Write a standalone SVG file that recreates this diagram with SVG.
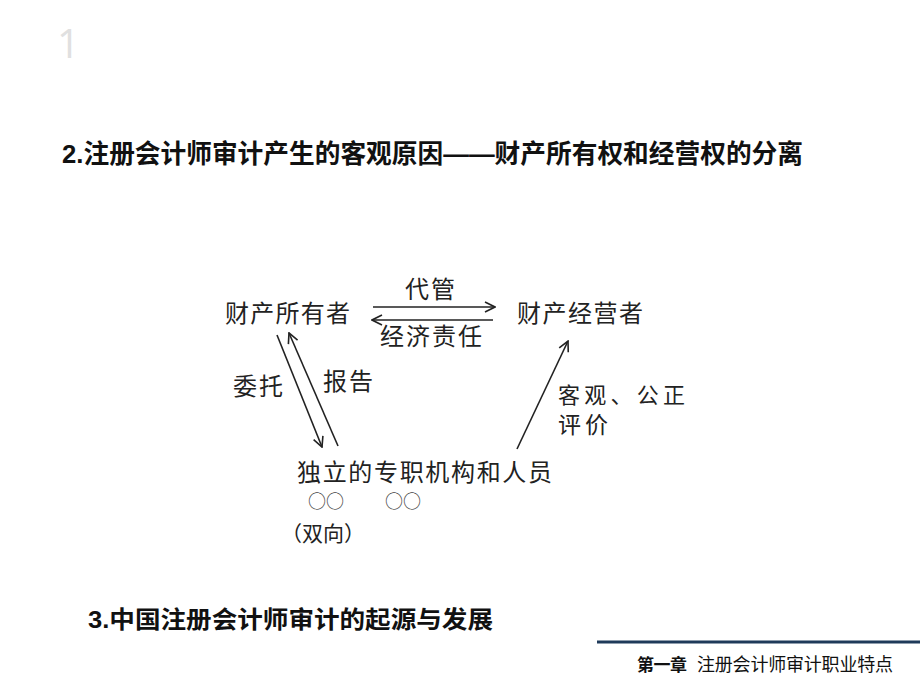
<svg xmlns="http://www.w3.org/2000/svg" width="920" height="690" viewBox="0 0 920 690">
<defs>
<style>
.t{font-family:"Liberation Sans","Noto Sans CJK SC",sans-serif;fill:#111;font-weight:bold}
.d{font-family:"Noto Sans CJK SC",sans-serif;fill:#222;font-size:24px}
.ln{stroke:#222;stroke-width:1.6;fill:none}
</style>
<marker id="ah" viewBox="0 0 12 12" refX="11" refY="6" markerWidth="12" markerHeight="12" markerUnits="userSpaceOnUse" orient="auto">
<path d="M1,1 L11,6 L1,11" fill="none" stroke="#222" stroke-width="1.6"/>
</marker>
</defs>
<rect width="920" height="690" fill="#fff"/>
<text x="57" y="58" font-family="Open Sans,sans-serif" font-size="40" fill="#e0e0e0">1</text>
<text class="t" x="62" y="163" font-size="26" textLength="741" lengthAdjust="spacingAndGlyphs">2.注册会计师审计产生的客观原因——财产所有权和经营权的分离</text>
<g id="connectors">
<line class="ln" x1="373" y1="307" x2="495" y2="307" marker-end="url(#ah)"/>
<line class="ln" x1="493" y1="320" x2="372" y2="320" marker-end="url(#ah)"/>
<line class="ln" x1="277" y1="335" x2="322" y2="447" marker-end="url(#ah)"/>
<line class="ln" x1="338" y1="446" x2="289" y2="333" marker-end="url(#ah)"/>
<line class="ln" x1="517" y1="449" x2="568" y2="341" marker-end="url(#ah)"/>
</g>
<g id="owner"><text class="d" x="225" y="322" textLength="125">财产所有者</text></g>
<g id="manager"><text class="d" x="517" y="322" textLength="126">财产经营者</text></g>
<g id="agency"><text class="d" x="297" y="481" textLength="255">独立的专职机构和人员</text>
<text class="d" x="308" y="508" style="font-size:18px;fill:#444">○○</text>
<text class="d" x="385" y="508" style="font-size:18px;fill:#444">○○</text>
<text class="d" x="281" y="541" style="font-size:21px">（双向）</text></g>
<g id="labels">
<text class="d" x="405" y="298" textLength="50">代管</text>
<text class="d" x="380" y="345" textLength="102">经济责任</text>
<text class="d" x="233" y="395" textLength="50">委托</text>
<text class="d" x="323" y="390" textLength="50">报告</text>
<text class="d" x="558" y="403" style="font-size:22px" textLength="127">客观、公正</text>
<text class="d" x="558" y="433" style="font-size:23px" textLength="50">评价</text>
</g>
<text class="t" x="88" y="628" font-size="24" textLength="405" lengthAdjust="spacingAndGlyphs">3.中国注册会计师审计的起源与发展</text>
<line x1="597" y1="642" x2="920" y2="642" stroke="#1f3a5a" stroke-width="3"/>
<text x="637" y="671" font-family="Liberation Serif,Noto Sans CJK SC,serif" font-weight="bold" font-size="17" fill="#111" textLength="50">第一章</text>
<text x="697" y="671" font-family="Noto Sans CJK SC,sans-serif" font-size="18" fill="#111" textLength="196">注册会计师审计职业特点</text>
</svg>
